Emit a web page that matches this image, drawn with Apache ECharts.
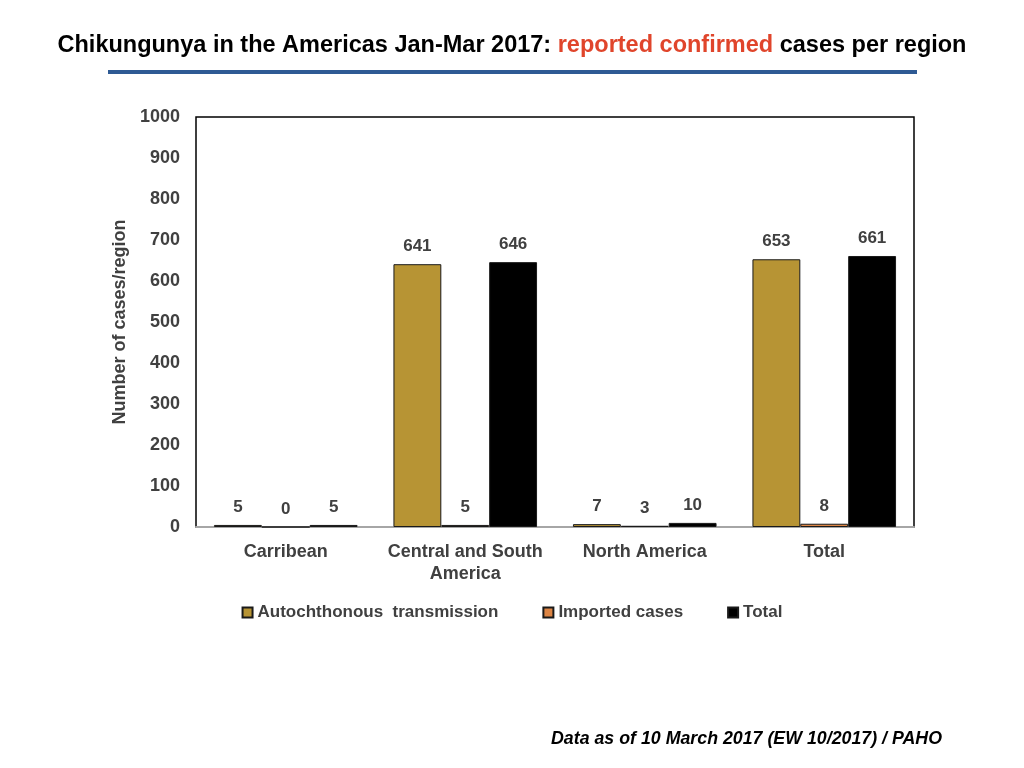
<!DOCTYPE html>
<html>
<head>
<meta charset="utf-8">
<script src="https://cdn.jsdelivr.net/npm/echarts@6/dist/echarts.min.js"></script>
<style>
  html, body { margin: 0; padding: 0; background: #fff; }
  #chart { width: 1024px; height: 768px; }
</style>
</head>
<body>
<div id="chart"></div>
<script>
// regions on the x axis
var regions = ["Carribean", "Central and South\nAmerica", "North America", "Total"];
// series values
var autochthonous = [5, 641, 7, 653];
var imported = [0, 5, 3, 8];
var totalCases = [5, 646, 10, 661];
var yTicks = { min: 0, max: 1000, step: 100 };

var labelColor = "#404040";
var fontFam = "'Liberation Sans', Arial, Helvetica, sans-serif";

function barSeries(name, data, color) {
  return {
    name: name,
    type: "bar",
    data: data,
    barGap: "0%",
    barCategoryGap: "20%",
    itemStyle: { color: color, borderColor: "#1a1a1a", borderWidth: 1 },
    label: {
      show: true,
      position: "top",
      distance: 9,
      color: labelColor,
      fontWeight: "bold",
      fontSize: 17,
      fontFamily: fontFam
    }
  };
}

var chart = echarts.init(document.getElementById("chart"));
chart.setOption({
  animation: false,
  backgroundColor: "#fff",
  textStyle: { fontFamily: fontFam },
  grid: {
    left: 196, right: 110, top: 117, bottom: 241,
    show: true, borderColor: "#000", borderWidth: 1.5
  },
  legend: {
    bottom: 142,
    left: "center",
    itemWidth: 10,
    itemHeight: 10,
    itemGap: 44,
    icon: "rect",
    textStyle: { color: labelColor, fontSize: 17, fontWeight: "bold", fontFamily: fontFam },
    data: ["Autochthonous  transmission", "Imported cases", "Total"]
  },
  xAxis: {
    type: "category",
    data: regions,
    axisLine: { lineStyle: { color: "#a6a6a6", width: 2 } },
    axisTick: { show: false },
    axisLabel: {
      interval: 0,
      color: labelColor, fontSize: 18, fontWeight: "bold",
      margin: 14, lineHeight: 22, fontFamily: fontFam
    }
  },
  yAxis: {
    type: "value",
    min: yTicks.min,
    max: yTicks.max,
    interval: yTicks.step,
    name: "Number of cases/region",
    nameLocation: "middle",
    nameGap: 64,
    nameTextStyle: { color: labelColor, fontSize: 18, fontWeight: "bold", fontFamily: fontFam },
    axisLine: { show: false },
    axisTick: { show: false },
    splitLine: { show: false },
    axisLabel: {
      color: labelColor, fontSize: 18, fontWeight: "bold", margin: 16, fontFamily: fontFam,
      formatter: function (v) { return String(v); }
    }
  },
  series: [
    barSeries("Autochthonous  transmission", autochthonous, "#B79434"),
    barSeries("Imported cases", imported, "#DD8544"),
    barSeries("Total", totalCases, "#000000")
  ],
  graphic: [
    {
      type: "text",
      left: "center",
      top: 34,
      style: {
        text: "{b|Chikungunya in the Americas Jan-Mar 2017: }{r|reported confirmed}{b| cases per region}",
        rich: {
          b: { fontSize: 23.5, fontWeight: "bold", fill: "#000", fontFamily: fontFam },
          r: { fontSize: 23.5, fontWeight: "bold", fill: "#E0452B", fontFamily: fontFam }
        }
      }
    },
    {
      type: "rect",
      shape: { x: 108, y: 70, width: 809, height: 4 },
      style: { fill: "#2E5A94" }
    },
    {
      type: "text",
      left: 551,
      top: 730,
      style: {
        text: "Data as of 10 March 2017 (EW 10/2017) / PAHO",
        fontSize: 17.8, fontWeight: "bold", fontStyle: "italic",
        fill: "#000", fontFamily: fontFam
      }
    }
  ]
});
</script>
</body>
</html>
